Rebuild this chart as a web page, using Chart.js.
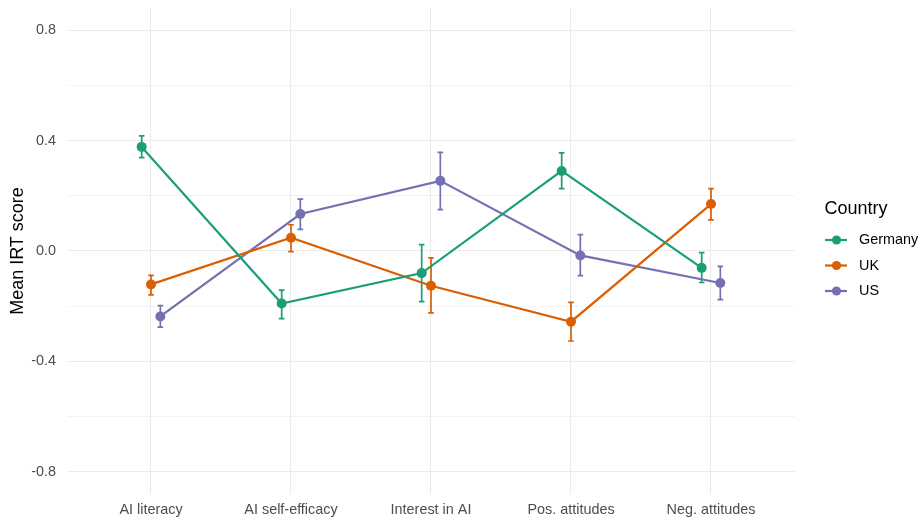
<!DOCTYPE html>
<html>
<head>
<meta charset="utf-8">
<script src="https://cdn.jsdelivr.net/npm/chart.js@4"></script>
<style>
  html, body { margin: 0; padding: 0; background: #ffffff; }
  #wrap { width: 921px; height: 519px; position: relative; }
</style>
</head>
<body>
<div id="wrap"><canvas id="c" width="921" height="519"></canvas></div>
<script>
// Outcome measures (x categories) and countries (series)
const categories = ['AI literacy', 'AI self-efficacy', 'Interest in AI', 'Pos. attitudes', 'Neg. attitudes'];
const countries = ['Germany', 'UK', 'US'];
const seriesColors = ['#1B9E77', '#D95F02', '#7570B3'];

// Mean IRT scores with lower / upper bounds of the error bars
const germanyMean = [0.377, -0.190, -0.080, 0.290, -0.061];
const germanyLow  = [0.338, -0.245, -0.183, 0.226, -0.114];
const germanyHigh = [0.417, -0.142,  0.023, 0.355, -0.006];

const ukMean = [-0.121, 0.048, -0.126, -0.256, 0.170];
const ukLow  = [-0.159, -0.002, -0.224, -0.326, 0.113];
const ukHigh = [-0.088, 0.095, -0.025, -0.186, 0.226];

const usMean = [-0.237, 0.134, 0.254, -0.016, -0.116];
const usLow  = [-0.276, 0.078, 0.150, -0.089, -0.176];
const usHigh = [-0.198, 0.188, 0.357, 0.059, -0.056];

// Y axis: grid every 0.2, labels every 0.4
const yGridValues = [-0.8, -0.6, -0.4, -0.2, 0, 0.2, 0.4, 0.6, 0.8];
const yLabelValues = [-0.8, -0.4, 0, 0.4, 0.8];

const means = [germanyMean, ukMean, usMean];
const lows = [germanyLow, ukLow, usLow];
const highs = [germanyHigh, ukHigh, usHigh];
const dodge = 0.2 / 3; // horizontal offset between countries within a category

const datasets = countries.map((name, s) => ({
  label: name,
  data: categories.map((c, i) => ({
    x: i + 1 + (s - 1) * dodge,
    y: means[s][i],
    lo: lows[s][i],
    hi: highs[s][i]
  })),
  borderColor: seriesColors[s],
  backgroundColor: seriesColors[s],
  borderWidth: 2.2,
  pointRadius: 5,
  pointHoverRadius: 5,
  pointBorderWidth: 0,
  tension: 0,
  fill: false
}));

const FONT = '"Liberation Sans", Arial, sans-serif';
const TICK_SIZE = 14.4;
const TITLE_SIZE = 18;

// Vertical error bars with small caps, drawn through the scales
const errorBars = {
  id: 'errorBars',
  beforeDatasetsDraw(chart) {
    const { ctx, scales: { x, y } } = chart;
    ctx.save();
    chart.data.datasets.forEach(ds => {
      ctx.strokeStyle = ds.borderColor;
      ctx.lineWidth = 1.7;
      ds.data.forEach(p => {
        const px = x.getPixelForValue(p.x);
        const yl = y.getPixelForValue(p.lo);
        const yh = y.getPixelForValue(p.hi);
        const cap = 2.8;
        ctx.beginPath();
        ctx.moveTo(px, yl); ctx.lineTo(px, yh);
        ctx.moveTo(px - cap, yl); ctx.lineTo(px + cap, yl);
        ctx.moveTo(px - cap, yh); ctx.lineTo(px + cap, yh);
        ctx.stroke();
      });
    });
    ctx.restore();
  }
};

// Legend on the right: title plus line-and-dot keys
const sideLegend = {
  id: 'sideLegend',
  afterDraw(chart) {
    const { ctx } = chart;
    const rows = [240, 265.5, 291];
    ctx.save();
    ctx.textBaseline = 'middle';
    ctx.textAlign = 'left';
    ctx.fillStyle = '#000000';
    ctx.font = TITLE_SIZE + 'px ' + FONT;
    ctx.fillText('Country', 824.5, 209);
    chart.data.datasets.forEach((ds, s) => {
      const cy = rows[s];
      ctx.strokeStyle = ds.borderColor;
      ctx.fillStyle = ds.borderColor;
      ctx.lineWidth = 2.2;
      ctx.beginPath();
      ctx.moveTo(825, cy); ctx.lineTo(847, cy);
      ctx.stroke();
      ctx.beginPath();
      ctx.arc(836.5, cy, 4.6, 0, Math.PI * 2);
      ctx.fill();
      ctx.fillStyle = '#000000';
      ctx.font = TICK_SIZE + 'px ' + FONT;
      ctx.fillText(ds.label, 859, cy + 0.5);
    });
    ctx.restore();
  }
};

new Chart(document.getElementById('c'), {
  type: 'line',
  data: { datasets },
  options: {
    responsive: false,
    devicePixelRatio: 1,
    animation: false,
    events: [],
    layout: { padding: { left: 0, right: 126, top: 8, bottom: 0 } },
    plugins: {
      legend: { display: false },
      tooltip: { enabled: false }
    },
    scales: {
      x: {
        type: 'linear',
        min: 0.4,
        max: 5.6,
        border: { display: false },
        afterBuildTicks(scale) {
          scale.ticks = categories.map((c, i) => ({ value: i + 1 }));
        },
        afterFit(scale) {
          scale.height = 25;
          scale.paddingLeft = 0;
          scale.paddingRight = 0;
        },
        ticks: {
          autoSkip: false,
          maxRotation: 0,
          padding: 7,
          color: '#4D4D4D',
          font: { family: FONT, size: TICK_SIZE },
          callback: (v) => categories[Math.round(v) - 1]
        },
        grid: { color: '#EBEBEB', lineWidth: 1.1, drawTicks: false }
      },
      y: {
        type: 'linear',
        min: -0.88,
        max: 0.88,
        border: { display: false },
        afterBuildTicks(scale) {
          scale.ticks = yGridValues.map(v => ({ value: v }));
        },
        afterFit(scale) {
          scale.width = 67;
          scale.paddingTop = 0;
          scale.paddingBottom = 0;
        },
        ticks: {
          autoSkip: false,
          padding: 11,
          color: '#4D4D4D',
          font: { family: FONT, size: TICK_SIZE },
          callback: (v) => {
            const major = yLabelValues.some(m => Math.abs(m - v) < 1e-9);
            if (!major) return '';
            return (Math.abs(v) < 1e-9 ? 0 : v).toFixed(1);
          }
        },
        grid: {
          color: '#EBEBEB',
          drawTicks: false,
          lineWidth: (ctx) => {
            const v = ctx.tick ? ctx.tick.value : 0;
            return yLabelValues.some(m => Math.abs(m - v) < 1e-9) ? 1.1 : 0.6;
          }
        },
        title: {
          display: true,
          text: 'Mean IRT score',
          color: '#000000',
          font: { family: FONT, size: TITLE_SIZE },
          padding: { top: 7, bottom: 0 }
        }
      }
    }
  },
  plugins: [errorBars, sideLegend]
});
</script>
</body>
</html>
